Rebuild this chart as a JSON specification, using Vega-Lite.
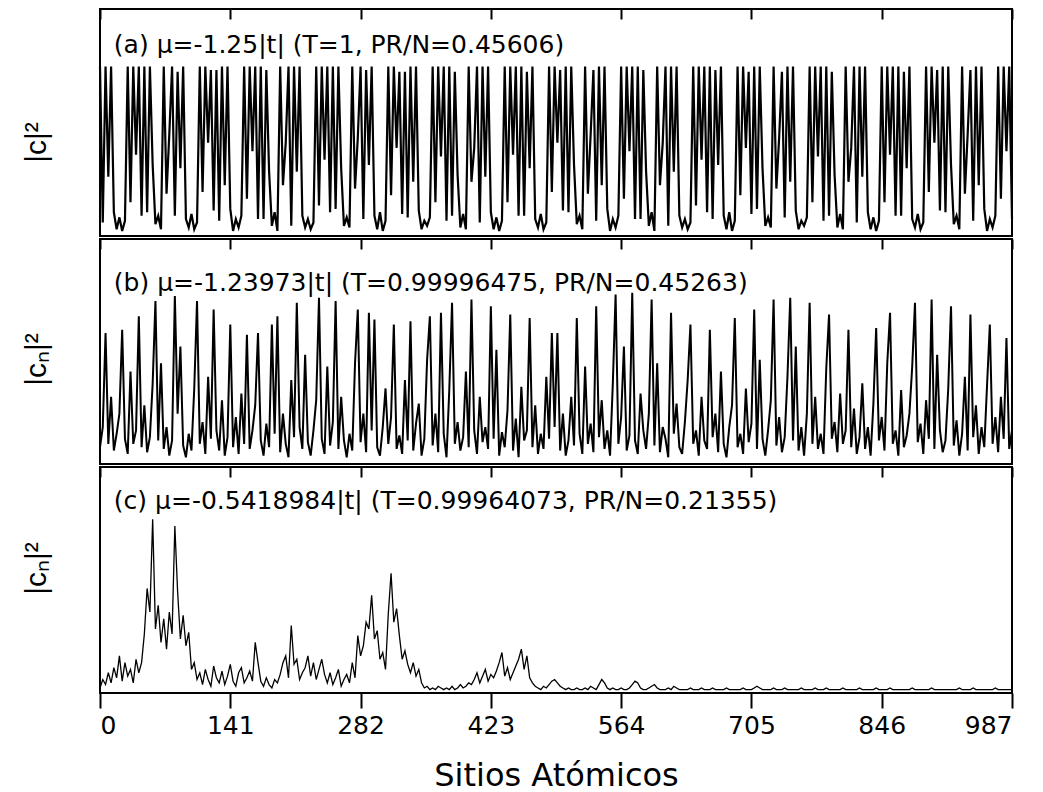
{
"$schema": "https://vega.github.io/schema/vega-lite/v6.json",
"background": "white",
"padding": {"left": 20, "top": 7, "right": 10, "bottom": 0},
"spacing": 0,
"datasets": {
"t": [{"p": "a", "t": "(a) μ=-1.25|t| (T=1, PR/N=0.45606)"}, {"p": "b", "t": "(b) μ=-1.23973|t| (T=0.99996475, PR/N=0.45263)"}, {"p": "c", "t": "(c) μ=-0.5418984|t| (T=0.99964073, PR/N=0.21355)"}],
"d": [
{"n":0,"a":100,"b":10,"c":3},{"n":3,"a":8,"b":22,"c":8},{"n":6,"a":100,"b":78,"c":5},{"n":9,"a":35,"b":12,"c":12},{"n":12,"a":100,"b":40,"c":6},{"n":15,"a":14,"b":8,"c":15},{"n":18,"a":4,"b":18,"c":9},{"n":21,"a":11,"b":30,"c":22},{"n":24,"a":3,"b":80,"c":7},{"n":27,"a":9,"b":15,"c":18},
{"n":30,"a":100,"b":6,"c":10},{"n":33,"a":20,"b":55,"c":14},{"n":36,"a":100,"b":12,"c":6},{"n":39,"a":48,"b":20,"c":20},{"n":42,"a":100,"b":88,"c":12},{"n":45,"a":12,"b":10,"c":18},{"n":48,"a":100,"b":35,"c":35},{"n":51,"a":14,"b":7,"c":62},{"n":54,"a":100,"b":16,"c":48},{"n":57,"a":42,"b":48,"c":103},
{"n":60,"a":7,"b":97,"c":38},{"n":63,"a":12,"b":14,"c":52},{"n":66,"a":4,"b":60,"c":30},{"n":69,"a":100,"b":9,"c":44},{"n":72,"a":25,"b":22,"c":26},{"n":75,"a":60,"b":5,"c":48},{"n":78,"a":100,"b":14,"c":35},{"n":81,"a":12,"b":100,"c":99},{"n":84,"a":97,"b":30,"c":60},{"n":87,"a":40,"b":70,"c":32},
{"n":90,"a":100,"b":11,"c":46},{"n":93,"a":10,"b":4,"c":28},{"n":96,"a":5,"b":18,"c":36},{"n":99,"a":13,"b":8,"c":14},{"n":102,"a":4,"b":45,"c":18},{"n":105,"a":8,"b":97,"c":8},{"n":108,"a":100,"b":12,"c":12},{"n":111,"a":26,"b":25,"c":5},{"n":114,"a":100,"b":6,"c":14},{"n":117,"a":55,"b":52,"c":8},
{"n":120,"a":98,"b":15,"c":4},{"n":123,"a":15,"b":92,"c":16},{"n":126,"a":98,"b":20,"c":9},{"n":129,"a":9,"b":8,"c":6},{"n":132,"a":100,"b":38,"c":13},{"n":135,"a":30,"b":5,"c":5},{"n":138,"a":100,"b":16,"c":10},{"n":141,"a":16,"b":83,"c":17},{"n":144,"a":3,"b":10,"c":7},{"n":147,"a":10,"b":28,"c":4},
{"n":150,"a":5,"b":6,"c":12},{"n":153,"a":12,"b":42,"c":15},{"n":156,"a":100,"b":12,"c":6},{"n":159,"a":22,"b":77,"c":9},{"n":162,"a":100,"b":9,"c":13},{"n":165,"a":50,"b":20,"c":7},{"n":168,"a":100,"b":35,"c":30},{"n":171,"a":10,"b":78,"c":18},{"n":174,"a":100,"b":14,"c":7},{"n":177,"a":10,"b":5,"c":4},
{"n":180,"a":98,"b":24,"c":9},{"n":183,"a":38,"b":10,"c":5},{"n":186,"a":6,"b":83,"c":3},{"n":189,"a":14,"b":18,"c":8},{"n":192,"a":3,"b":88,"c":6},{"n":195,"a":100,"b":7,"c":11},{"n":198,"a":30,"b":30,"c":18},{"n":201,"a":55,"b":12,"c":22},{"n":204,"a":100,"b":4,"c":9},{"n":207,"a":6,"b":50,"c":40},
{"n":210,"a":100,"b":16,"c":17},{"n":213,"a":38,"b":96,"c":20},{"n":216,"a":100,"b":22,"c":8},{"n":219,"a":12,"b":9,"c":12},{"n":222,"a":5,"b":65,"c":15},{"n":225,"a":10,"b":13,"c":22},{"n":228,"a":4,"b":5,"c":10},{"n":231,"a":8,"b":20,"c":18},{"n":234,"a":100,"b":38,"c":8},{"n":237,"a":18,"b":99,"c":14},
{"n":240,"a":100,"b":15,"c":20},{"n":243,"a":45,"b":6,"c":11},{"n":246,"a":100,"b":58,"c":6},{"n":249,"a":14,"b":11,"c":12},{"n":252,"a":100,"b":25,"c":5},{"n":255,"a":16,"b":97,"c":9},{"n":258,"a":100,"b":9,"c":14},{"n":261,"a":40,"b":40,"c":4},{"n":264,"a":6,"b":14,"c":8},{"n":267,"a":11,"b":4,"c":11},
{"n":270,"a":5,"b":18,"c":6},{"n":273,"a":100,"b":8,"c":18},{"n":276,"a":28,"b":60,"c":9},{"n":279,"a":58,"b":92,"c":34},{"n":282,"a":100,"b":13,"c":22},{"n":285,"a":10,"b":30,"c":28},{"n":288,"a":98,"b":7,"c":42},{"n":291,"a":42,"b":90,"c":38},{"n":294,"a":100,"b":20,"c":58},{"n":297,"a":12,"b":86,"c":32},
{"n":300,"a":4,"b":10,"c":37},{"n":303,"a":14,"b":5,"c":20},{"n":306,"a":3,"b":22,"c":24},{"n":309,"a":9,"b":45,"c":14},{"n":312,"a":100,"b":12,"c":47},{"n":315,"a":24,"b":28,"c":71},{"n":318,"a":100,"b":83,"c":42},{"n":321,"a":52,"b":9,"c":50},{"n":324,"a":97,"b":17,"c":34},{"n":327,"a":13,"b":6,"c":20},
{"n":330,"a":97,"b":50,"c":25},{"n":333,"a":11,"b":14,"c":17},{"n":336,"a":100,"b":85,"c":12},{"n":339,"a":32,"b":8,"c":18},{"n":342,"a":100,"b":24,"c":10},{"n":345,"a":15,"b":36,"c":14},{"n":348,"a":4,"b":5,"c":6},{"n":351,"a":9,"b":15,"c":3},{"n":354,"a":6,"b":62,"c":4},{"n":357,"a":11,"b":88,"c":2},
{"n":360,"a":100,"b":11,"c":3},{"n":363,"a":20,"b":30,"c":2},{"n":366,"a":100,"b":7,"c":4},{"n":369,"a":47,"b":90,"c":3},{"n":372,"a":100,"b":18,"c":2},{"n":375,"a":9,"b":4,"c":3},{"n":378,"a":100,"b":44,"c":2},{"n":381,"a":12,"b":96,"c":4},{"n":384,"a":97,"b":12,"c":2},{"n":387,"a":36,"b":25,"c":3},
{"n":390,"a":5,"b":8,"c":5},{"n":393,"a":13,"b":16,"c":3},{"n":396,"a":4,"b":55,"c":4},{"n":399,"a":100,"b":10,"c":6},{"n":402,"a":32,"b":98,"c":5},{"n":405,"a":52,"b":20,"c":8},{"n":408,"a":100,"b":6,"c":12},{"n":411,"a":8,"b":40,"c":6},{"n":414,"a":100,"b":13,"c":10},{"n":417,"a":35,"b":22,"c":14},
{"n":420,"a":100,"b":9,"c":7},{"n":423,"a":14,"b":94,"c":11},{"n":426,"a":4,"b":15,"c":9},{"n":429,"a":11,"b":68,"c":13},{"n":432,"a":3,"b":5,"c":18},{"n":435,"a":9,"b":19,"c":24},{"n":438,"a":100,"b":10,"c":10},{"n":441,"a":20,"b":32,"c":15},{"n":444,"a":100,"b":89,"c":8},{"n":447,"a":48,"b":8,"c":12},
{"n":450,"a":100,"b":27,"c":16},{"n":453,"a":12,"b":4,"c":20},{"n":456,"a":100,"b":46,"c":26},{"n":459,"a":12,"b":14,"c":14},{"n":462,"a":97,"b":20,"c":22},{"n":465,"a":40,"b":87,"c":9},{"n":468,"a":100,"b":10,"c":6},{"n":471,"a":10,"b":35,"c":4},{"n":474,"a":5,"b":6,"c":3},{"n":477,"a":13,"b":18,"c":2},
{"n":480,"a":4,"b":9,"c":4},{"n":483,"a":8,"b":52,"c":3},{"n":486,"a":100,"b":15,"c":5},{"n":489,"a":26,"b":78,"c":7},{"n":492,"a":100,"b":22,"c":8},{"n":495,"a":55,"b":78,"c":6},{"n":498,"a":98,"b":8,"c":4},{"n":501,"a":15,"b":30,"c":3},{"n":504,"a":100,"b":5,"c":2},{"n":507,"a":14,"b":14,"c":3},
{"n":510,"a":100,"b":40,"c":2},{"n":513,"a":42,"b":11,"c":2},{"n":516,"a":7,"b":87,"c":3},{"n":519,"a":12,"b":18,"c":2},{"n":522,"a":4,"b":6,"c":2},{"n":525,"a":100,"b":58,"c":3},{"n":528,"a":25,"b":12,"c":2},{"n":531,"a":60,"b":24,"c":4},{"n":534,"a":98,"b":7,"c":3},{"n":537,"a":9,"b":94,"c":2},
{"n":540,"a":100,"b":16,"c":5},{"n":543,"a":30,"b":38,"c":8},{"n":546,"a":100,"b":9,"c":6},{"n":549,"a":16,"b":20,"c":3},{"n":552,"a":3,"b":5,"c":2},{"n":555,"a":10,"b":48,"c":3},{"n":558,"a":5,"b":101,"c":2},{"n":561,"a":12,"b":12,"c":2},{"n":564,"a":100,"b":28,"c":3},{"n":567,"a":22,"b":70,"c":2},
{"n":570,"a":100,"b":8,"c":2},{"n":573,"a":50,"b":17,"c":3},{"n":576,"a":100,"b":102,"c":5},{"n":579,"a":10,"b":14,"c":7},{"n":582,"a":100,"b":6,"c":6},{"n":585,"a":10,"b":42,"c":3},{"n":588,"a":98,"b":20,"c":2},{"n":591,"a":38,"b":9,"c":2},{"n":594,"a":6,"b":30,"c":3},{"n":597,"a":14,"b":98,"c":4},
{"n":600,"a":3,"b":11,"c":5},{"n":603,"a":100,"b":60,"c":3},{"n":606,"a":30,"b":7,"c":2},{"n":609,"a":55,"b":22,"c":2},{"n":612,"a":100,"b":15,"c":2},{"n":615,"a":6,"b":4,"c":3},{"n":618,"a":100,"b":90,"c":2},{"n":621,"a":38,"b":18,"c":4},{"n":624,"a":100,"b":36,"c":3},{"n":627,"a":12,"b":10,"c":2},
{"n":630,"a":5,"b":6,"c":2},{"n":633,"a":10,"b":25,"c":2},{"n":636,"a":4,"b":50,"c":2},{"n":639,"a":8,"b":83,"c":3},{"n":642,"a":100,"b":12,"c":2},{"n":645,"a":18,"b":20,"c":2},{"n":648,"a":100,"b":5,"c":2},{"n":651,"a":45,"b":40,"c":3},{"n":654,"a":100,"b":14,"c":2},{"n":657,"a":14,"b":9,"c":2},
{"n":660,"a":100,"b":80,"c":2},{"n":663,"a":10,"b":16,"c":3},{"n":666,"a":98,"b":30,"c":2},{"n":669,"a":42,"b":7,"c":2},{"n":672,"a":100,"b":55,"c":2},{"n":675,"a":12,"b":12,"c":2},{"n":678,"a":4,"b":4,"c":3},{"n":681,"a":14,"b":22,"c":2},{"n":684,"a":3,"b":35,"c":2},{"n":687,"a":9,"b":87,"c":2},
{"n":690,"a":100,"b":10,"c":2},{"n":693,"a":24,"b":18,"c":2},{"n":696,"a":100,"b":6,"c":3},{"n":699,"a":52,"b":45,"c":2},{"n":702,"a":97,"b":13,"c":2},{"n":705,"a":13,"b":24,"c":2},{"n":708,"a":100,"b":92,"c":3},{"n":711,"a":16,"b":9,"c":4},{"n":714,"a":100,"b":62,"c":3},{"n":717,"a":40,"b":15,"c":2},
{"n":720,"a":6,"b":5,"c":2},{"n":723,"a":11,"b":20,"c":2},{"n":726,"a":5,"b":38,"c":2},{"n":729,"a":100,"b":98,"c":3},{"n":732,"a":28,"b":11,"c":2},{"n":735,"a":58,"b":28,"c":2},{"n":738,"a":97,"b":7,"c":2},{"n":741,"a":11,"b":16,"c":3},{"n":744,"a":100,"b":52,"c":2},{"n":747,"a":32,"b":99,"c":2},
{"n":750,"a":100,"b":14,"c":2},{"n":753,"a":15,"b":70,"c":2},{"n":756,"a":4,"b":8,"c":2},{"n":759,"a":9,"b":22,"c":3},{"n":762,"a":6,"b":5,"c":2},{"n":765,"a":11,"b":30,"c":2},{"n":768,"a":100,"b":96,"c":2},{"n":771,"a":20,"b":12,"c":2},{"n":774,"a":100,"b":40,"c":3},{"n":777,"a":47,"b":9,"c":2},
{"n":780,"a":100,"b":18,"c":2},{"n":783,"a":9,"b":6,"c":2},{"n":786,"a":100,"b":57,"c":3},{"n":789,"a":12,"b":89,"c":2},{"n":792,"a":97,"b":15,"c":2},{"n":795,"a":36,"b":25,"c":2},{"n":798,"a":5,"b":7,"c":2},{"n":801,"a":13,"b":42,"c":2},{"n":804,"a":4,"b":12,"c":3},{"n":807,"a":100,"b":20,"c":2},
{"n":810,"a":32,"b":80,"c":2},{"n":813,"a":52,"b":10,"c":2},{"n":816,"a":100,"b":33,"c":2},{"n":819,"a":8,"b":6,"c":2},{"n":822,"a":100,"b":16,"c":3},{"n":825,"a":35,"b":48,"c":2},{"n":828,"a":100,"b":9,"c":2},{"n":831,"a":14,"b":22,"c":2},{"n":834,"a":4,"b":5,"c":2},{"n":837,"a":11,"b":36,"c":2},
{"n":840,"a":3,"b":81,"c":3},{"n":843,"a":9,"b":14,"c":2},{"n":846,"a":100,"b":28,"c":2},{"n":849,"a":20,"b":8,"c":2},{"n":852,"a":100,"b":60,"c":2},{"n":855,"a":48,"b":90,"c":3},{"n":858,"a":100,"b":12,"c":2},{"n":861,"a":12,"b":20,"c":2},{"n":864,"a":100,"b":5,"c":2},{"n":867,"a":12,"b":44,"c":2},
{"n":870,"a":97,"b":10,"c":2},{"n":873,"a":40,"b":17,"c":2},{"n":876,"a":100,"b":30,"c":2},{"n":879,"a":10,"b":58,"c":3},{"n":882,"a":5,"b":96,"c":2},{"n":885,"a":13,"b":13,"c":2},{"n":888,"a":4,"b":24,"c":2},{"n":891,"a":8,"b":6,"c":2},{"n":894,"a":100,"b":38,"c":2},{"n":897,"a":26,"b":15,"c":2},
{"n":900,"a":100,"b":98,"c":3},{"n":903,"a":55,"b":9,"c":2},{"n":906,"a":98,"b":65,"c":2},{"n":909,"a":15,"b":20,"c":2},{"n":912,"a":100,"b":7,"c":2},{"n":915,"a":14,"b":14,"c":2},{"n":918,"a":100,"b":45,"c":2},{"n":921,"a":42,"b":94,"c":2},{"n":924,"a":7,"b":11,"c":2},{"n":927,"a":12,"b":26,"c":2},
{"n":930,"a":4,"b":5,"c":3},{"n":933,"a":100,"b":18,"c":2},{"n":936,"a":25,"b":52,"c":2},{"n":939,"a":60,"b":8,"c":2},{"n":942,"a":98,"b":89,"c":2},{"n":945,"a":9,"b":16,"c":3},{"n":948,"a":100,"b":35,"c":2},{"n":951,"a":30,"b":6,"c":2},{"n":954,"a":100,"b":22,"c":2},{"n":957,"a":16,"b":10,"c":2},
{"n":960,"a":3,"b":47,"c":2},{"n":963,"a":10,"b":83,"c":2},{"n":966,"a":5,"b":12,"c":2},{"n":969,"a":12,"b":28,"c":3},{"n":972,"a":100,"b":7,"c":2},{"n":975,"a":22,"b":40,"c":2},{"n":978,"a":100,"b":15,"c":2},{"n":981,"a":50,"b":75,"c":2},{"n":984,"a":100,"b":9,"c":2},{"n":987,"a":10,"b":20,"c":2}
]
},
"vconcat": [
{
"width": 912, "height": 227,
"layer": [
{"data": {"name": "d"}, "mark": {"type": "line", "color": "black", "strokeWidth": 2.2},
"encoding": {
"x": {"field": "n", "type": "quantitative", "scale": {"domain": [0, 987], "nice": false, "zero": false}, "axis": {"orient": "top", "values": [0,141,282,423,564,705,846,987], "labels": false, "title": null, "tickSize": -10, "tickWidth": 2}},
"y": {"field": "a", "type": "quantitative", "scale": {"domain": [0, 134], "nice": false}, "axis": {"title": "|c|²", "labels": false, "ticks": false, "titleFontSize": 30, "titleAngle": 270, "titleX": -64, "titleY": 133, "titleBaseline": "middle", "titleAlign": "center"}}
}},
{"data": {"name": "t"}, "transform": [{"filter": "datum.p === 'a'"}], "mark": {"type": "text", "align": "left", "baseline": "middle", "font": "DejaVu Sans", "fontSize": 25, "color": "black"},
"encoding": {"x": {"datum": 15}, "y": {"datum": 113}, "text": {"field": "t"}}}
]
},
{
"width": 912, "height": 225,
"layer": [
{"data": {"name": "d"}, "mark": {"type": "line", "color": "black", "strokeWidth": 2},
"encoding": {
"x": {"field": "n", "type": "quantitative", "scale": {"domain": [0, 987], "nice": false, "zero": false}, "axis": {"orient": "top", "values": [0,141,282,423,564,705,846,987], "labels": false, "title": null, "tickSize": -10, "tickWidth": 2}},
"y": {"field": "b", "type": "quantitative", "scale": {"domain": [0, 134], "nice": false}, "axis": {"title": "|cₙ|²", "labels": false, "ticks": false, "titleFontSize": 30, "titleAngle": 270, "titleX": -64, "titleY": 120, "titleBaseline": "middle", "titleAlign": "center"}}
}},
{"data": {"name": "t"}, "transform": [{"filter": "datum.p === 'b'"}], "mark": {"type": "text", "align": "left", "baseline": "middle", "font": "DejaVu Sans", "fontSize": 25, "color": "black"},
"encoding": {"x": {"datum": 15}, "y": {"datum": 108}, "text": {"field": "t"}}}
]
},
{
"width": 912, "height": 226,
"layer": [
{"data": {"name": "d"}, "mark": {"type": "line", "color": "black", "strokeWidth": 1.3},
"encoding": {
"x": {"field": "n", "type": "quantitative", "scale": {"domain": [0, 987], "nice": false, "zero": false}, "axis": {"orient": "bottom", "values": [0,141,282,423,564,705,846,987], "title": "Sitios Atómicos", "titleFontSize": 32, "titleFont": "DejaVu Sans", "titlePadding": 22, "labelFontSize": 25, "labelPadding": 5, "tickSize": 15, "tickWidth": 2}},
"y": {"field": "c", "type": "quantitative", "scale": {"domain": [0, 134], "nice": false}, "axis": {"title": "|cₙ|²", "labels": false, "ticks": false, "titleFontSize": 30, "titleAngle": 270, "titleX": -64, "titleY": 101, "titleBaseline": "middle", "titleAlign": "center"}}
}},
{"data": {"name": "t"}, "transform": [{"filter": "datum.p === 'c'"}], "mark": {"type": "text", "align": "left", "baseline": "middle", "font": "DejaVu Sans", "fontSize": 25, "color": "black"},
"encoding": {"x": {"datum": 15, "axis": {"orient": "top", "values": [0,141,282,423,564,705,846,987], "labels": false, "title": null, "tickSize": -10, "tickWidth": 2}}, "y": {"datum": 114}, "text": {"field": "t"}}}
],
"resolve": {"axis": {"x": "independent"}}
}
],
"config": {
"view": {"stroke": "black", "strokeWidth": 2},
"axis": {"domain": false, "grid": false, "labelFont": "DejaVu Sans", "titleFont": "Liberation Sans", "titleFontWeight": "normal", "tickColor": "black", "labelColor": "black", "titleColor": "black"}
}
}
